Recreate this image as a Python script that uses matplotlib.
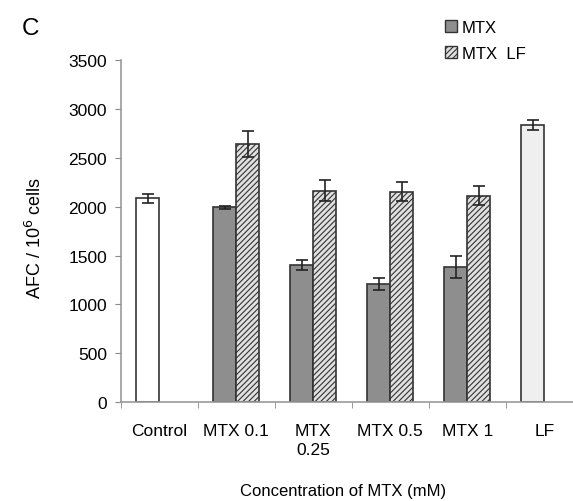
import matplotlib.pyplot as plt
import numpy as np
from matplotlib.patches import Patch

plt.rcParams['font.family'] = ['Liberation Sans', 'DejaVu Sans']
plt.rcParams['hatch.linewidth'] = 0.8

# data
categories = ["Control", "MTX 0.1", "MTX\n0.25", "MTX 0.5", "MTX 1", "LF"]
mtx_vals = [1995, 1400, 1210, 1385]
mtx_err = [15, 50, 62, 112]
mtxlf_vals = [2645, 2165, 2155, 2115]
mtxlf_err = [135, 105, 95, 95]
control_val, control_err = 2085, 50
lf_val, lf_err = 2840, 50

fig = plt.figure(figsize=(5.73, 5.02), dpi=100)
ax = fig.add_axes([0.211, 0.197, 0.806, 0.681])

w = 0.3
x = np.arange(len(categories))
edge = "#333333"
errkw = dict(ecolor="#222222", capsize=4, elinewidth=1.2, capthick=1.2)

ax.bar(x[0] - w / 2, control_val, w, yerr=control_err, color="white",
       edgecolor=edge, linewidth=1.2, error_kw=errkw)
ax.bar(x[1:5] - w / 2, mtx_vals, w, yerr=mtx_err, color="#8e8e8e",
       edgecolor=edge, linewidth=1.2, error_kw=errkw)
ax.bar(x[1:5] + w / 2, mtxlf_vals, w, yerr=mtxlf_err, color="#e0e0e0",
       edgecolor=edge, linewidth=1.2, hatch="//////", error_kw=errkw)
ax.bar(x[5] - w / 2, lf_val, w, yerr=lf_err, color="#efefef",
       edgecolor=edge, linewidth=1.2, error_kw=errkw)

ax.set_xlim(-0.5, 5.5)
ax.set_ylim(0, 3500)
ax.set_yticks(range(0, 3501, 500))
ax.set_xticks(x)
ax.set_xticklabels(categories, fontsize=12.5, linespacing=1.3)
ax.set_xticks(np.arange(-0.5, 5.5, 1), minor=True)
ax.tick_params(axis="x", which="major", length=0, pad=15)
ax.tick_params(axis="x", which="minor", length=4, color="#888888", direction="out")
ax.tick_params(axis="y", labelsize=12.5, length=4, color="#888888",
               direction="out", pad=6)

for s in ["top", "right"]:
    ax.spines[s].set_visible(False)
for s in ["left", "bottom"]:
    ax.spines[s].set_color("#999999")
    ax.spines[s].set_linewidth(1.2)

fig.text(0.061, 0.526, "AFC / 10$^6$ cells", rotation=90, ha="center",
         va="center", fontsize=13)
fig.text(0.599, 0.012, "Concentration of MTX (mM)", ha="center", fontsize=12)
fig.text(0.038, 0.930, "C", fontsize=17.5, va="baseline")

handles = [Patch(facecolor="#8e8e8e", edgecolor=edge),
           Patch(facecolor="#e0e0e0", edgecolor=edge, hatch="//////")]
fig.legend(handles, ["MTX", "MTX  LF"], loc="upper left",
           bbox_to_anchor=(445 / 573, 1 - 21 / 502), frameon=False,
           fontsize=12, borderpad=0, borderaxespad=0,
           handlelength=0.72, handleheight=0.72, handletextpad=0.3,
           labelspacing=0.65)

fig.savefig("out.png", dpi=100)
